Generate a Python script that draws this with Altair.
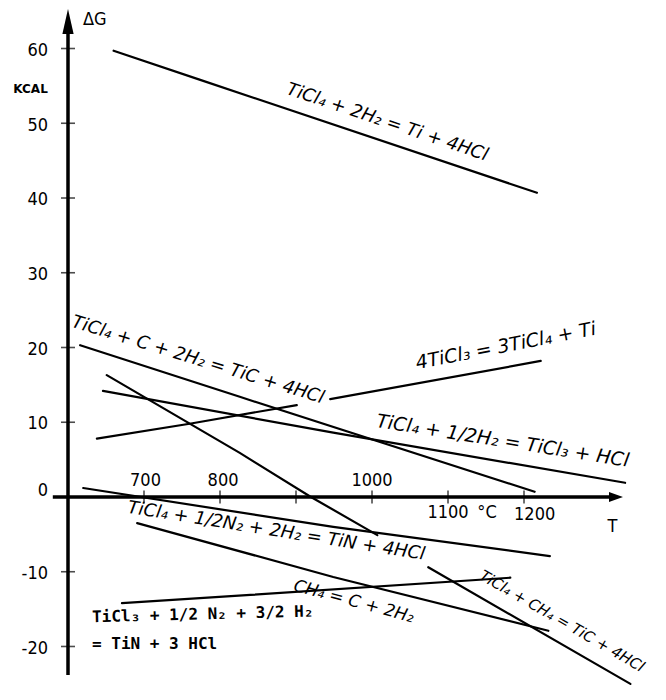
import altair as alt
import pandas as pd

# ---------------- data (T in deg C, dG in kcal) ----------------
ti_T = [660, 774, 1217]                 # TiCl4 + 2H2 = Ti + 4HCl
ti_G = [59.7, 55.8, 40.7]
tic_T = [616, 826, 1214]                # TiCl4 + C + 2H2 = TiC + 4HCl
tic_G = [20.3, 13.4, 0.7]
ticl3_T = [646, 949, 1333]              # TiCl4 + 1/2H2 = TiCl3 + HCl
ticl3_G = [14.2, 8.6, 1.9]
disp_T_a = [638, 760, 901]              # 4TiCl3 = 3TiCl4 + Ti (left part)
disp_G_a = [7.8, 9.8, 12.3]
disp_T_b = [945, 1222]                  # (right part)
disp_G_b = [13.1, 18.2]
ch4tic_T_a = [651, 826, 918, 1007]      # TiCl4 + CH4 = TiC + 4HCl (upper part)
ch4tic_G_a = [16.3, 5.9, 0.1, -5.1]
ch4tic_T_b = [1074, 1340]               # (lower part)
ch4tic_G_b = [-9.4, -25.0]
tin_T = [620, 949, 1234]                # TiCl4 + 1/2N2 + 2H2 = TiN + 4HCl
tin_G = [1.2, -4.0, -7.9]
tin3_T = [691, 949, 1232]               # TiCl3 + 1/2N2 + 3/2H2 = TiN + 3HCl
tin3_G = [-3.5, -10.7, -17.9]
ch4_T = [671, 840, 1182]                # CH4 = C + 2H2
ch4_G = [-14.2, -13.1, -10.8]

y_ticks = [60, 50, 40, 30, 20, 10, 0, -10, -20]
x_ticks = [700, 800, 900, 1000, 1100, 1200]
x_lab_above = ["700", "800", "1000"]
x_lab_above_T = [702, 804, 1000]
x_lab_below = ["1100", "1200"]
x_lab_below_T = [1100, 1214]

# reaction labels: text, T, dG, angle, lettering size
rx_text = ["TiCl\u2084 + 2H\u2082 = Ti + 4HCl",
           "TiCl\u2084 + C + 2H\u2082 = TiC + 4HCl",
           "4TiCl\u2083 = 3TiCl\u2084 + Ti",
           "TiCl\u2084 + 1/2H\u2082 = TiCl\u2083 + HCl",
           "TiCl\u2084 + 1/2N\u2082 + 2H\u2082 = TiN + 4HCl",
           "CH\u2084 = C + 2H\u2082",
           "TiCl\u2084 + CH\u2084 = TiC + 4HCl"]
rx_T = [1020, 771, 1176, 1172, 874, 976, 1250]
rx_G = [50.1, 18.3, 20.2, 7.5, -4.6, -14.0, -16.6]
rx_angle = [18.5, 17, 349, 9, 9, 15, 30]
rx_size = [18, 18, 19, 19, 18, 17, 15]

bl_text = ["TiCl\u2083 + 1/2 N\u2082 + 3/2 H\u2082", "= TiN + 3 HCl"]
bl_T = [631.6, 631.6]
bl_G = [-16.1, -19.7]
bl_angle = [358.5, 0]

# ---------------- geometry of the drawing ----------------
W, H = 650, 684
X_DOM = [521.05, 1376.3]
Y_DOM = [-26.09, 65.42]
AXIS_T = 600
Y_AXIS = [-23.8, 62.5]
X_AXIS = [580, 1318]

NUM_FONT = "DejaVu Sans Condensed, sans-serif"
TXT_FONT = "DejaVu Sans, sans-serif"
MONO_FONT = "DejaVu Sans Mono, monospace"

series = [
    ("ti", ti_T, ti_G), ("tic", tic_T, tic_G), ("ticl3", ticl3_T, ticl3_G),
    ("disp_a", disp_T_a, disp_G_a), ("disp_b", disp_T_b, disp_G_b),
    ("ch4tic_a", ch4tic_T_a, ch4tic_G_a), ("ch4tic_b", ch4tic_T_b, ch4tic_G_b),
    ("tin", tin_T, tin_G), ("tin3", tin3_T, tin3_G), ("ch4", ch4_T, ch4_G),
]
rows = []
for name, ts, gs in series:
    for i, (t, g) in enumerate(zip(ts, gs)):
        rows.append({"seg": name, "i": i, "T": t, "G": g})
lines_df = pd.DataFrame(rows)

xs = alt.Scale(domain=X_DOM, nice=False, zero=False)
ys = alt.Scale(domain=Y_DOM, nice=False, zero=False)


def X(f="T"):
    return alt.X(f + ":Q", scale=xs, axis=None)


def Y(f="G"):
    return alt.Y(f + ":Q", scale=ys, axis=None)


lines = alt.Chart(lines_df).mark_line(color="black", strokeWidth=2.2, strokeCap="round").encode(
    x=X(), y=Y(), detail="seg:N", order="i:Q")

yaxis = alt.Chart(pd.DataFrame({"T": [AXIS_T], "G": [Y_AXIS[0]], "G2": [Y_AXIS[1]]})).mark_rule(
    color="black", strokeWidth=3.5).encode(x=X(), y=Y(), y2="G2:Q")
xaxis = alt.Chart(pd.DataFrame({"T": [X_AXIS[0]], "T2": [X_AXIS[1]], "G": [0]})).mark_rule(
    color="black", strokeWidth=3.5).encode(x=X(), x2="T2:Q", y=Y())

up_arrow = alt.Chart(pd.DataFrame({"T": [AXIS_T], "G": [63.6]})).mark_point(
    shape="M0,-1L0.45,1L-0.45,1Z", size=625, filled=True, color="black", opacity=1).encode(x=X(), y=Y())
right_arrow = alt.Chart(pd.DataFrame({"T": [1321], "G": [0]})).mark_point(
    shape="M1,0L-1,-0.7L-1,0.7Z", size=196, filled=True, color="black", opacity=1).encode(x=X(), y=Y())

yt = alt.Chart(pd.DataFrame({"T": [AXIS_T] * len(y_ticks), "G": y_ticks})).mark_tick(
    orient="horizontal", size=14, thickness=1.6, color="black").encode(x=X(), y=Y())
xt = alt.Chart(pd.DataFrame({"T": x_ticks, "G": [0] * len(x_ticks)})).mark_tick(
    orient="vertical", size=13, thickness=1.6, color="black").encode(x=X(), y=Y())

ylab_df = pd.DataFrame({"T": [573.7] * len(y_ticks),
                        "G": [g - 0.3 if g != 0 else 0.8 for g in y_ticks],
                        "txt": [str(v) for v in y_ticks]})
ylab = alt.Chart(ylab_df).mark_text(align="right", baseline="middle", font=NUM_FONT, fontSize=18,
                                    color="black").encode(x=X(), y=Y(), text="txt:N")

xlab_a = alt.Chart(pd.DataFrame({"T": x_lab_above_T, "G": [2.1] * 3, "txt": x_lab_above})).mark_text(
    align="center", baseline="middle", font=NUM_FONT, fontSize=18, color="black").encode(
    x=X(), y=Y(), text="txt:N")
xlab_b = alt.Chart(pd.DataFrame({"T": x_lab_below_T, "G": [-2.2, -2.4], "txt": x_lab_below})).mark_text(
    align="center", baseline="middle", font=NUM_FONT, fontSize=18, color="black").encode(
    x=X(), y=Y(), text="txt:N")

misc_df = pd.DataFrame({"T": [1151.3, 1316.4], "G": [-2.2, -3.95], "txt": ["\u00b0C", "T"]})
misc = alt.Chart(misc_df).mark_text(align="center", baseline="middle", font=NUM_FONT, fontSize=18,
                                    color="black").encode(x=X(), y=Y(), text="txt:N")

dg = alt.Chart(pd.DataFrame({"T": [619.7], "G": [63.8], "txt": ["\u0394G"]})).mark_text(
    align="left", baseline="middle", font=NUM_FONT, fontSize=18, color="black").encode(
    x=X(), y=Y(), text="txt:N")
kcal = alt.Chart(pd.DataFrame({"T": [550.7], "G": [54.6], "txt": ["KCAL"]})).mark_text(
    align="center", baseline="middle", font=TXT_FONT, fontSize=12, fontWeight="bold", color="black").encode(
    x=X(), y=Y(), text="txt:N")

rx_df = pd.DataFrame({"T": rx_T, "G": rx_G, "txt": rx_text, "ang": rx_angle, "sz": rx_size})
rx = alt.Chart(rx_df).mark_text(align="center", baseline="middle", font=TXT_FONT,
                                fontStyle="italic", color="black").encode(
    x=X(), y=Y(), text="txt:N", angle=alt.Angle("ang:Q", scale=None), size=alt.Size("sz:Q", scale=None))

bl_df = pd.DataFrame({"T": bl_T, "G": bl_G, "txt": bl_text, "ang": bl_angle})
bl = alt.Chart(bl_df).mark_text(align="left", baseline="middle", font=MONO_FONT, fontSize=16,
                                fontWeight="bold", color="black").encode(
    x=X(), y=Y(), text="txt:N", angle=alt.Angle("ang:Q", scale=None))

chart = alt.layer(
    lines, yaxis, xaxis, up_arrow, right_arrow, yt, xt, ylab, xlab_a, xlab_b, misc, dg, kcal, rx, bl
).properties(
    width=W, height=H, padding=0, autosize=alt.AutoSizeParams(type="none"), background="white"
).configure_view(stroke=None)

chart.save("out.html", embed_options={"renderer": "svg", "actions": False})
